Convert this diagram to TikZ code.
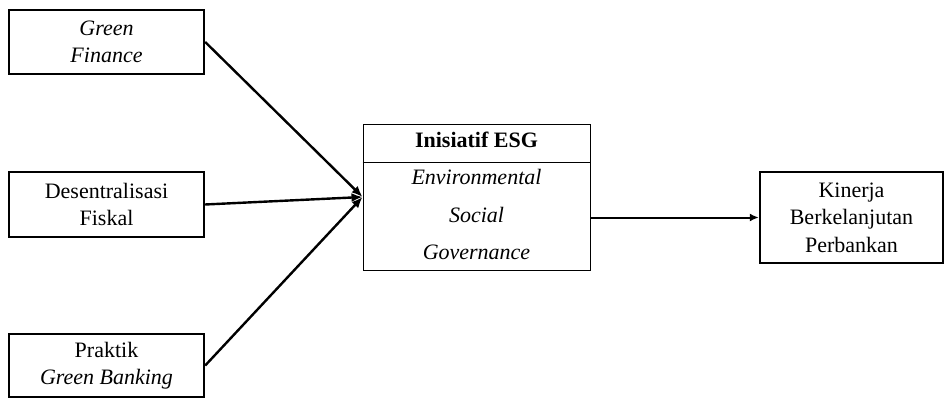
\documentclass[tikz,border=0pt]{standalone}
\usepackage{fontspec}
\setmainfont{Liberation Serif}
\usetikzlibrary{arrows.meta}
\begin{document}
\begin{tikzpicture}[x=1pt,y=-1pt,
  txt/.style={font=\fontsize{22}{27.5}\selectfont, align=center},
  srcbox/.style={draw, line width=2.4pt, minimum width=195pt, inner sep=0pt, txt},
  thinbox/.style={draw, line width=0.9pt, inner sep=0pt},
  inarrow/.style={line width=2.4pt, -{Latex[length=11pt,width=9pt]}},
  outarrow/.style={line width=2pt, -{Latex[length=9pt,width=8pt]}}]
\useasboundingbox (0,0) rectangle (944,398);
\node[srcbox, minimum height=64pt] (gf) at (106.5,42) {\textit{Green}\\\textit{Finance}};
\node[srcbox, minimum height=65pt] (df) at (106.5,204.5) {Desentralisasi\\Fiskal};
\node[srcbox, minimum height=63pt] (pg) at (106.5,365.5) {Praktik\\\textit{Green Banking}};
\node[thinbox, minimum width=227pt, minimum height=146pt] (esg) at (476.5,197) {};
\draw[line width=0.9pt] (esg.west |- 0,162) coordinate (dl) -- (esg.east |- 0,162) coordinate (dr);
\node[txt, anchor=base] (h) at (476.5,148) {\textbf{Inisiatif ESG}};
\node[txt, anchor=base] (e1) at (476.5,185) {\textit{Environmental}};
\node[txt, anchor=base] (e2) at (476.5,222) {\textit{Social}};
\node[txt, anchor=base] (e3) at (476.5,259) {\textit{Governance}};
\node[draw, line width=2.4pt, minimum width=183pt, minimum height=91pt, inner sep=0pt, txt] (kin) at (851.5,217.5) {Kinerja\\Berkelanjutan\\Perbankan};
\draw[inarrow] (gf.east) -- (esg.west);
\draw[inarrow] (df.east) -- (esg.west);
\draw[inarrow] (pg.east) -- (esg.west);
\draw[outarrow] (esg.east |- kin.west) -- (kin.west);
\end{tikzpicture}
\end{document}
